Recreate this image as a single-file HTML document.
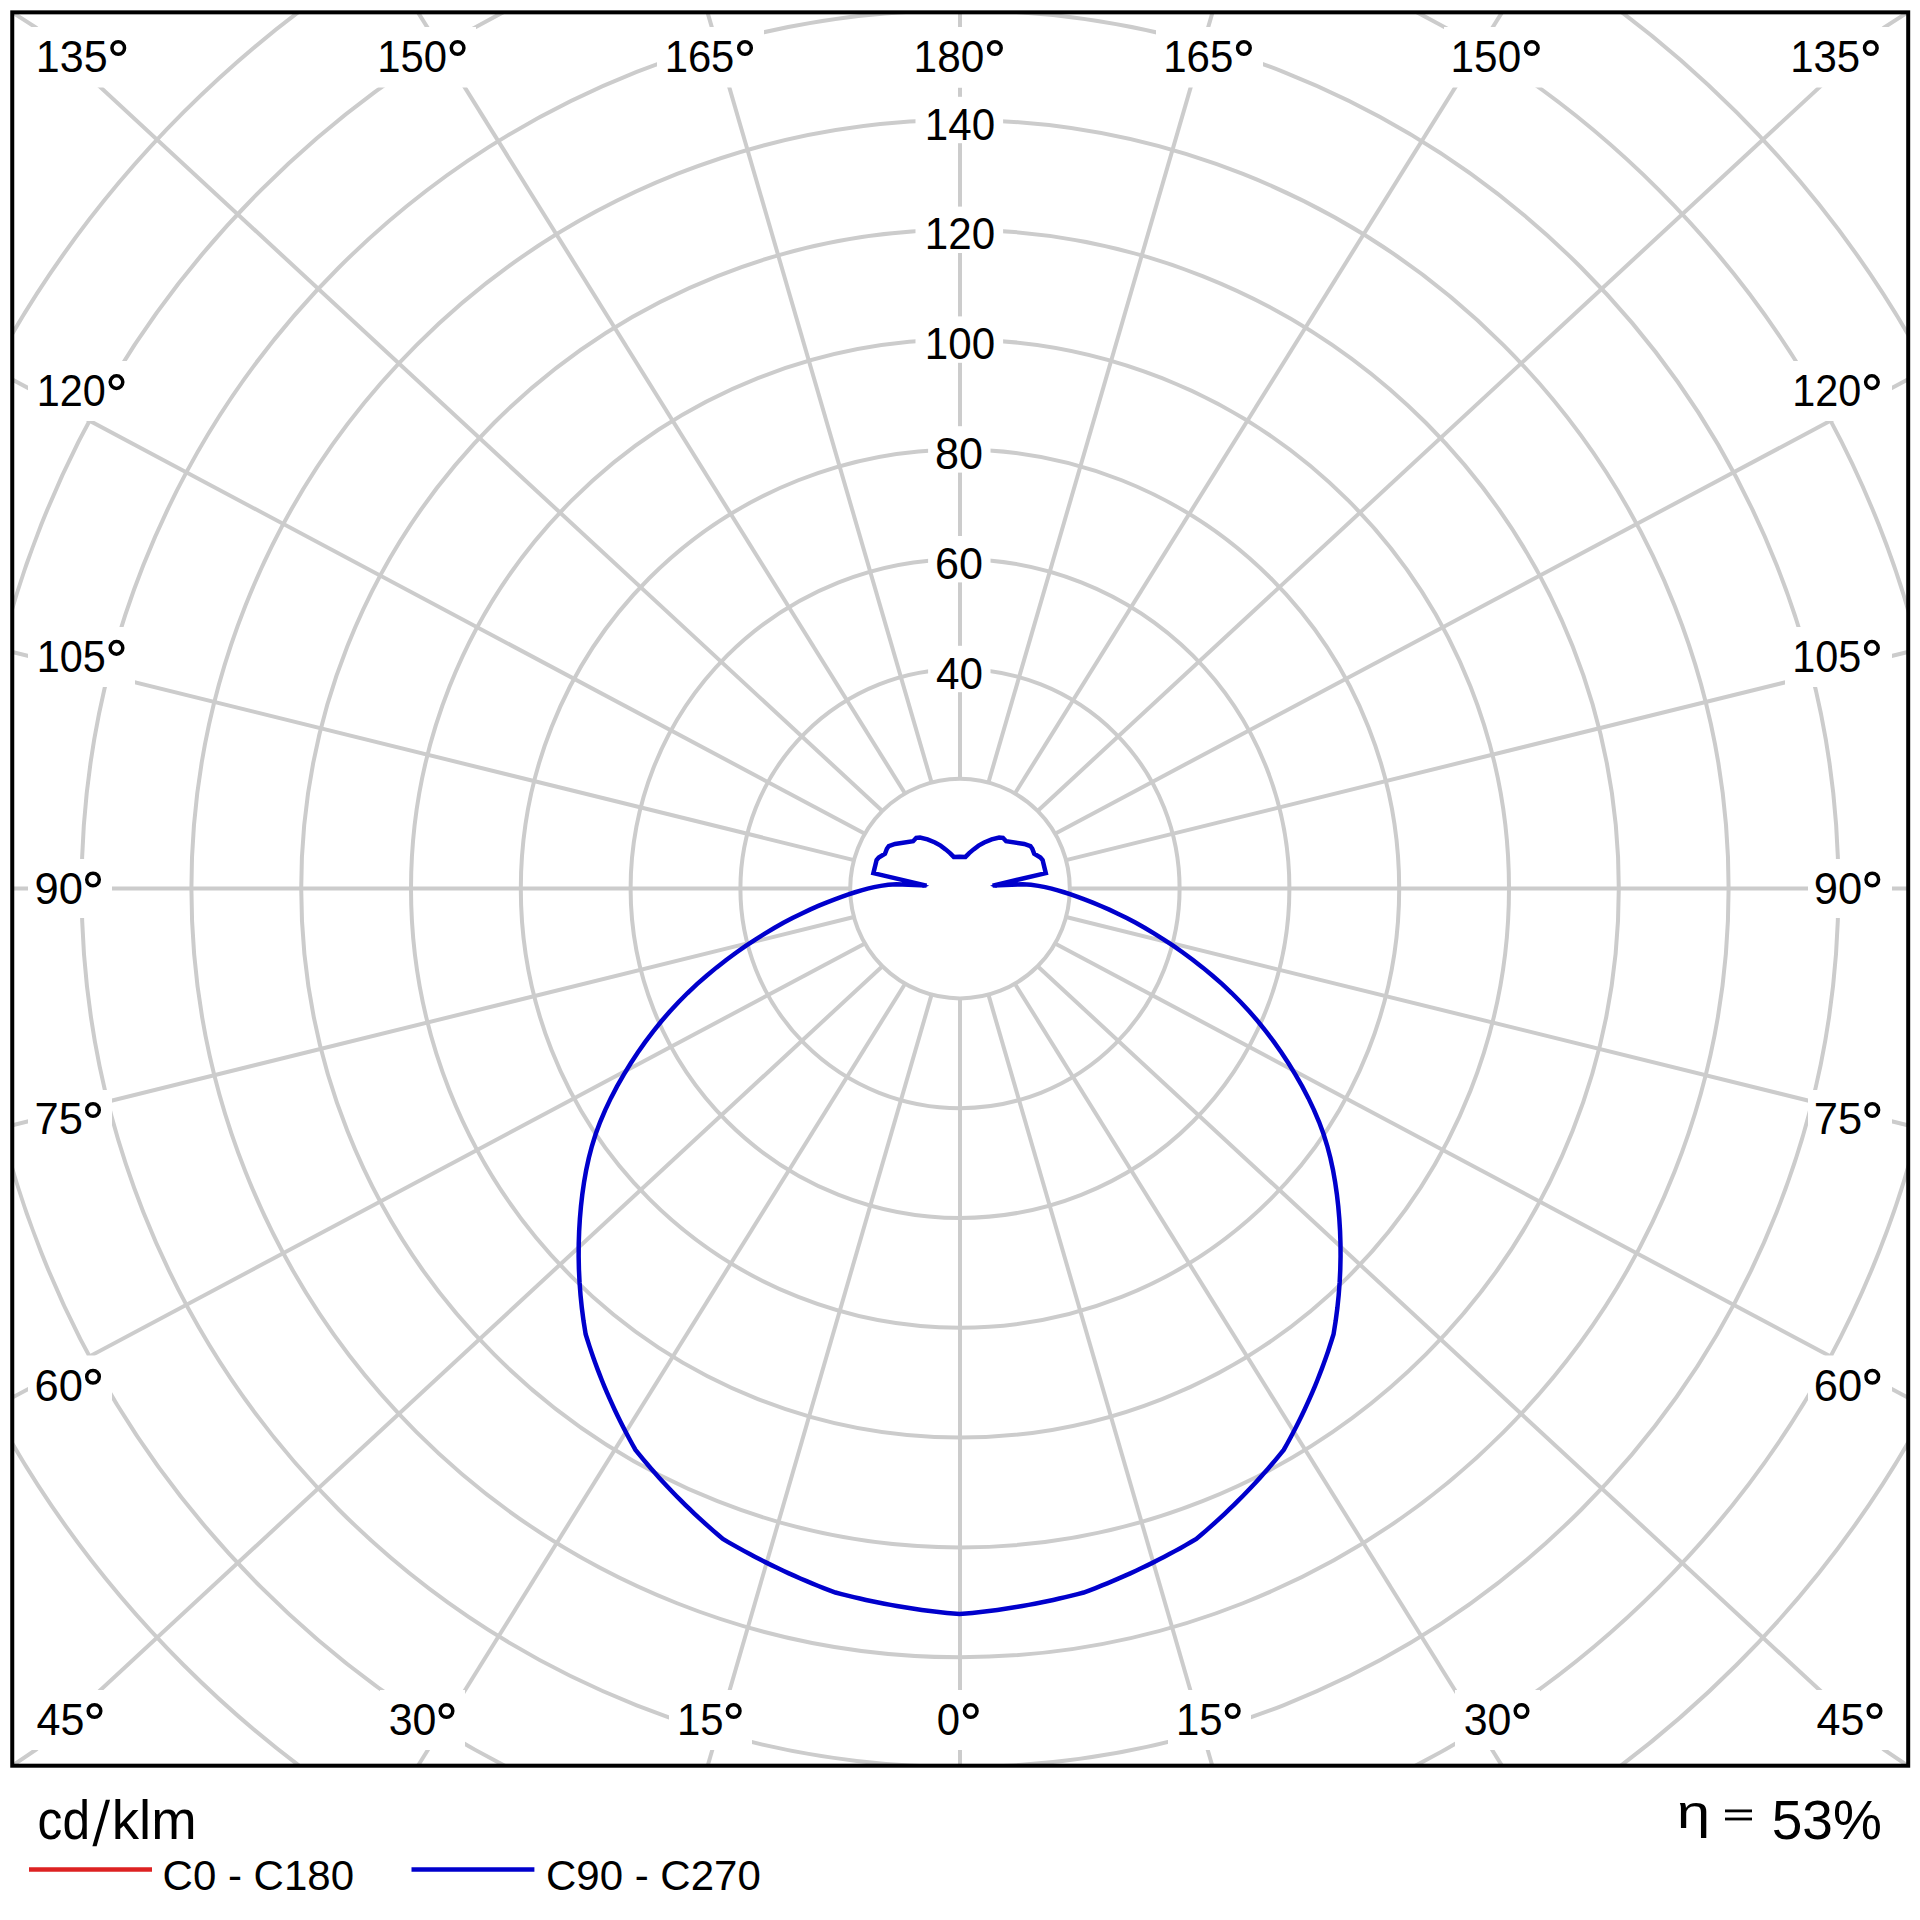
<!DOCTYPE html>
<html><head><meta charset="utf-8"><title>Polar diagram</title>
<style>html,body{margin:0;padding:0;background:#fff;} svg{display:block;}</style>
</head><body>
<svg xmlns="http://www.w3.org/2000/svg" width="1920" height="1920" viewBox="0 0 1920 1920">
<rect x="0" y="0" width="1920" height="1920" fill="#fff"/>
<clipPath id="bx"><rect x="12.25" y="12.35" width="1895.95" height="1753.3500000000001"/></clipPath>
<g clip-path="url(#bx)" fill="none" stroke="#cccccc" stroke-width="4.00">
<circle cx="960.0" cy="888.6" r="109.80"/>
<circle cx="960.0" cy="888.6" r="219.60"/>
<circle cx="960.0" cy="888.6" r="329.40"/>
<circle cx="960.0" cy="888.6" r="439.20"/>
<circle cx="960.0" cy="888.6" r="549.00"/>
<circle cx="960.0" cy="888.6" r="658.80"/>
<circle cx="960.0" cy="888.6" r="768.60"/>
<circle cx="960.0" cy="888.6" r="878.40"/>
<circle cx="960.0" cy="888.6" r="988.20"/>
<circle cx="960.0" cy="888.6" r="1098.00"/>
<path d="M960.00,998.40 L960.00,1765.70"/>
<path d="M931.58,994.66 L707.70,1765.70"/>
<path d="M988.42,994.66 L1212.30,1765.70"/>
<path d="M905.10,983.69 L418.00,1765.70"/>
<path d="M1014.90,983.69 L1502.00,1765.70"/>
<path d="M882.36,966.24 L36.00,1749.70 L12.25,1765.70"/>
<path d="M1037.64,966.24 L1884.00,1749.70 L1907.75,1765.70"/>
<path d="M864.91,943.50 L12.25,1397.60"/>
<path d="M1055.09,943.50 L1907.75,1397.60"/>
<path d="M853.94,917.02 L12.25,1125.20"/>
<path d="M1066.06,917.02 L1907.75,1125.20"/>
<path d="M850.20,888.60 L12.25,888.60"/>
<path d="M1069.80,888.60 L1907.75,888.60"/>
<path d="M853.94,860.18 L12.25,652.00"/>
<path d="M1066.06,860.18 L1907.75,652.00"/>
<path d="M864.91,833.70 L12.25,379.60"/>
<path d="M1055.09,833.70 L1907.75,379.60"/>
<path d="M882.36,810.96 L36.00,27.50 L12.25,12.35"/>
<path d="M1037.64,810.96 L1884.00,27.50 L1907.75,12.35"/>
<path d="M905.10,793.51 L418.00,12.35"/>
<path d="M1014.90,793.51 L1502.00,12.35"/>
<path d="M931.58,782.54 L707.50,12.35"/>
<path d="M988.42,782.54 L1212.50,12.35"/>
<path d="M960.00,778.80 L960.00,12.35"/>
</g>
<g fill="#ffffff">
<rect x="28.00" y="27.00" width="109.00" height="60.50"/>
<rect x="1783.00" y="27.00" width="109.00" height="60.50"/>
<rect x="369.50" y="27.00" width="106.50" height="60.50"/>
<rect x="1444.00" y="27.00" width="106.50" height="60.50"/>
<rect x="657.00" y="27.00" width="107.00" height="60.50"/>
<rect x="1156.00" y="27.00" width="107.00" height="60.50"/>
<rect x="906.00" y="27.00" width="107.50" height="60.50"/>
<rect x="906.50" y="27.00" width="107.50" height="60.50"/>
<rect x="28.00" y="1690.00" width="84.00" height="60.00"/>
<rect x="1808.00" y="1690.00" width="84.00" height="60.00"/>
<rect x="380.00" y="1690.00" width="85.00" height="60.00"/>
<rect x="1455.00" y="1690.00" width="85.00" height="60.00"/>
<rect x="669.00" y="1690.00" width="83.00" height="60.00"/>
<rect x="1168.00" y="1690.00" width="83.00" height="60.00"/>
<rect x="927.00" y="1690.00" width="66.00" height="60.00"/>
<rect x="927.00" y="1690.00" width="66.00" height="60.00"/>
<rect x="28.00" y="361.00" width="107.00" height="60.00"/>
<rect x="1785.00" y="361.00" width="107.00" height="60.00"/>
<rect x="28.00" y="627.00" width="107.00" height="60.00"/>
<rect x="1785.00" y="627.00" width="107.00" height="60.00"/>
<rect x="28.00" y="859.00" width="84.00" height="59.00"/>
<rect x="1808.00" y="859.00" width="84.00" height="59.00"/>
<rect x="28.00" y="1090.00" width="84.00" height="60.00"/>
<rect x="1808.00" y="1090.00" width="84.00" height="60.00"/>
<rect x="28.00" y="1355.50" width="84.00" height="60.00"/>
<rect x="1808.00" y="1355.50" width="84.00" height="60.00"/>
<rect x="928.10" y="645.80" width="62.40" height="46.40"/>
<rect x="928.10" y="536.00" width="62.40" height="46.40"/>
<rect x="928.10" y="426.20" width="62.40" height="46.40"/>
<rect x="915.50" y="316.40" width="87.60" height="46.40"/>
<rect x="915.50" y="206.60" width="87.60" height="46.40"/>
<rect x="915.50" y="96.80" width="87.60" height="46.40"/>
</g>
<path d="M959.60,856.70 L953.75,856.90 L950.00,853.10 L945.60,849.40 L940.60,845.60 L935.00,842.50 L927.50,839.40 L920.00,837.50 L916.25,837.80 L913.10,841.25 L895.00,844.00 L888.75,846.25 L886.90,848.75 L885.00,853.75 L878.75,857.50 L876.60,860.00 L873.40,873.10 L926.50,885.60 L896.55,884.19 L888.26,884.86 L880.83,885.85 L874.04,887.11 L867.64,888.60 L861.41,890.31 L855.11,892.25 L848.51,894.42 L841.50,896.86 L834.11,899.58 L826.37,902.60 L818.30,905.95 L809.94,909.63 L801.32,913.67 L792.47,918.07 L783.42,922.85 L774.21,928.01 L764.85,933.56 L755.35,939.53 L745.73,945.91 L736.01,952.71 L726.20,959.96 L716.38,967.63 L706.62,975.71 L696.98,984.18 L687.55,993.03 L678.40,1002.21 L669.58,1011.71 L661.14,1021.48 L653.05,1031.55 L645.28,1041.90 L637.80,1052.57 L630.58,1063.54 L623.62,1074.83 L617.02,1086.39 L610.85,1098.15 L605.18,1110.07 L600.10,1122.06 L595.68,1134.07 L591.93,1146.04 L588.80,1158.00 L586.21,1169.97 L584.08,1181.99 L582.35,1194.09 L580.96,1206.32 L579.89,1218.68 L579.14,1231.17 L578.73,1243.77 L578.65,1256.48 L578.92,1269.28 L579.54,1282.16 L580.52,1295.11 L581.86,1308.12 L583.57,1321.17 L585.65,1334.26 L587.48,1340.02 L589.34,1345.83 L591.27,1351.65 L593.28,1357.47 L595.36,1363.28 L597.52,1369.10 L599.75,1374.91 L602.05,1380.73 L604.43,1386.53 L606.88,1392.34 L609.41,1398.14 L612.01,1403.93 L614.68,1409.72 L617.43,1415.49 L620.25,1421.26 L623.15,1427.03 L626.13,1432.78 L629.18,1438.52 L632.30,1444.24 L635.50,1449.96 L639.33,1454.67 L643.22,1459.37 L647.16,1464.04 L651.17,1468.68 L655.23,1473.30 L659.34,1477.88 L663.52,1482.45 L667.75,1486.98 L672.04,1491.49 L676.38,1495.96 L680.78,1500.41 L685.24,1504.82 L689.75,1509.21 L694.32,1513.56 L698.94,1517.88 L703.62,1522.16 L708.36,1526.42 L713.15,1530.63 L717.99,1534.81 L722.89,1538.96 L728.19,1542.07 L733.54,1545.14 L738.91,1548.16 L744.33,1551.14 L749.78,1554.08 L755.26,1556.97 L760.78,1559.82 L766.33,1562.62 L771.91,1565.37 L777.53,1568.08 L783.19,1570.74 L788.87,1573.36 L794.59,1575.92 L800.34,1578.44 L806.12,1580.92 L811.93,1583.34 L817.77,1585.71 L823.64,1588.04 L829.54,1590.31 L835.48,1592.54 L841.54,1594.12 L847.61,1595.66 L853.71,1597.14 L859.82,1598.56 L865.95,1599.94 L872.10,1601.26 L878.26,1602.53 L884.44,1603.74 L890.63,1604.90 L896.83,1606.01 L903.06,1607.06 L909.29,1608.06 L915.54,1609.01 L921.80,1609.90 L928.07,1610.74 L934.36,1611.52 L940.65,1612.25 L946.96,1612.92 L953.27,1613.54 L959.60,1614.10 L965.93,1613.54 L972.24,1612.92 L978.55,1612.25 L984.84,1611.52 L991.13,1610.74 L997.40,1609.90 L1003.66,1609.01 L1009.91,1608.06 L1016.14,1607.06 L1022.37,1606.01 L1028.57,1604.90 L1034.76,1603.74 L1040.94,1602.53 L1047.10,1601.26 L1053.25,1599.94 L1059.38,1598.56 L1065.49,1597.14 L1071.59,1595.66 L1077.66,1594.12 L1083.72,1592.54 L1089.66,1590.31 L1095.56,1588.04 L1101.43,1585.71 L1107.27,1583.34 L1113.08,1580.92 L1118.86,1578.44 L1124.61,1575.92 L1130.33,1573.36 L1136.01,1570.74 L1141.67,1568.08 L1147.29,1565.37 L1152.87,1562.62 L1158.42,1559.82 L1163.94,1556.97 L1169.42,1554.08 L1174.87,1551.14 L1180.29,1548.16 L1185.66,1545.14 L1191.01,1542.07 L1196.31,1538.96 L1201.21,1534.81 L1206.05,1530.63 L1210.84,1526.42 L1215.58,1522.16 L1220.26,1517.88 L1224.88,1513.56 L1229.45,1509.21 L1233.96,1504.82 L1238.42,1500.41 L1242.82,1495.96 L1247.16,1491.49 L1251.45,1486.98 L1255.68,1482.45 L1259.86,1477.88 L1263.97,1473.30 L1268.03,1468.68 L1272.04,1464.04 L1275.98,1459.37 L1279.87,1454.67 L1283.70,1449.96 L1286.90,1444.24 L1290.02,1438.52 L1293.07,1432.78 L1296.05,1427.03 L1298.95,1421.26 L1301.77,1415.49 L1304.52,1409.72 L1307.19,1403.93 L1309.79,1398.14 L1312.32,1392.34 L1314.77,1386.53 L1317.15,1380.73 L1319.45,1374.91 L1321.68,1369.10 L1323.84,1363.28 L1325.92,1357.47 L1327.93,1351.65 L1329.86,1345.83 L1331.72,1340.02 L1333.55,1334.26 L1335.63,1321.17 L1337.34,1308.12 L1338.68,1295.11 L1339.66,1282.16 L1340.28,1269.28 L1340.55,1256.48 L1340.47,1243.77 L1340.06,1231.17 L1339.31,1218.68 L1338.24,1206.32 L1336.85,1194.09 L1335.12,1181.99 L1332.99,1169.97 L1330.40,1158.00 L1327.27,1146.04 L1323.52,1134.07 L1319.10,1122.06 L1314.02,1110.07 L1308.35,1098.15 L1302.18,1086.39 L1295.58,1074.83 L1288.62,1063.54 L1281.40,1052.57 L1273.92,1041.90 L1266.15,1031.55 L1258.06,1021.48 L1249.62,1011.71 L1240.80,1002.21 L1231.65,993.03 L1222.22,984.18 L1212.58,975.71 L1202.82,967.63 L1193.00,959.96 L1183.19,952.71 L1173.47,945.91 L1163.85,939.53 L1154.35,933.56 L1144.99,928.01 L1135.78,922.85 L1126.73,918.07 L1117.88,913.67 L1109.26,909.63 L1100.90,905.95 L1092.83,902.60 L1085.09,899.58 L1077.70,896.86 L1070.69,894.42 L1064.09,892.25 L1057.79,890.31 L1051.56,888.60 L1045.16,887.11 L1038.37,885.85 L1030.94,884.86 L1022.65,884.19 L992.70,885.60 L1045.80,873.10 L1042.60,860.00 L1040.45,857.50 L1034.20,853.75 L1032.30,848.75 L1030.45,846.25 L1024.20,844.00 L1006.10,841.25 L1002.95,837.80 L999.20,837.50 L991.70,839.40 L984.20,842.50 L978.60,845.60 L973.60,849.40 L969.20,853.10 L965.45,856.90 L959.60,856.70 Z" fill="none" stroke="#0000cc" stroke-width="4.5" stroke-linejoin="miter" stroke-miterlimit="3"/>
<path d="M922.50,883.2 L929.20,885.7 L922.50,887.9 Z" fill="#0000cc"/>
<path d="M996.70,883.2 L990.00,885.7 L996.70,887.9 Z" fill="#0000cc"/>
<rect x="12.25" y="12.35" width="1895.95" height="1753.3500000000001" fill="none" stroke="#000" stroke-width="4"/>
<g font-family='"Liberation Sans", sans-serif' fill="#000">
<text transform="translate(38.75,72.00) scale(0.9783,1.02)" x="-3.00" y="0" font-size="44">135</text>
<circle cx="118.25" cy="48.00" r="6.3" fill="none" stroke="#000" stroke-width="3.5"/>
<text transform="translate(380.00,72.00) scale(0.9507,1.02)" x="-3.00" y="0" font-size="44">150</text>
<circle cx="457.60" cy="48.00" r="6.3" fill="none" stroke="#000" stroke-width="3.5"/>
<text transform="translate(667.50,72.00) scale(0.9493,1.02)" x="-3.00" y="0" font-size="44">165</text>
<circle cx="745.00" cy="48.00" r="6.3" fill="none" stroke="#000" stroke-width="3.5"/>
<text transform="translate(916.50,72.00) scale(0.9623,1.02)" x="-3.00" y="0" font-size="44">180</text>
<circle cx="994.90" cy="48.00" r="6.3" fill="none" stroke="#000" stroke-width="3.5"/>
<text transform="translate(1166.00,72.00) scale(0.9551,1.02)" x="-3.00" y="0" font-size="44">165</text>
<circle cx="1243.90" cy="48.00" r="6.3" fill="none" stroke="#000" stroke-width="3.5"/>
<text transform="translate(1453.50,72.00) scale(0.9609,1.02)" x="-3.00" y="0" font-size="44">150</text>
<circle cx="1531.80" cy="48.00" r="6.3" fill="none" stroke="#000" stroke-width="3.5"/>
<text transform="translate(1793.00,72.00) scale(0.9536,1.02)" x="-3.00" y="0" font-size="44">135</text>
<circle cx="1870.80" cy="48.00" r="6.3" fill="none" stroke="#000" stroke-width="3.5"/>
<text transform="translate(37.50,1735.00) scale(0.9783,1.02)" x="-1.00" y="0" font-size="44">45</text>
<circle cx="94.50" cy="1711.00" r="6.3" fill="none" stroke="#000" stroke-width="3.5"/>
<text transform="translate(390.60,1735.00) scale(0.9756,1.02)" x="-2.00" y="0" font-size="44">30</text>
<circle cx="446.50" cy="1711.00" r="6.3" fill="none" stroke="#000" stroke-width="3.5"/>
<text transform="translate(679.80,1735.00) scale(0.9523,1.02)" x="-3.00" y="0" font-size="44">15</text>
<circle cx="733.70" cy="1711.00" r="6.3" fill="none" stroke="#000" stroke-width="3.5"/>
<text transform="translate(938.75,1735.00) scale(0.9524,1.02)" x="-2.00" y="0" font-size="44">0</text>
<circle cx="970.75" cy="1711.00" r="6.3" fill="none" stroke="#000" stroke-width="3.5"/>
<text transform="translate(1178.80,1735.00) scale(0.9523,1.02)" x="-3.00" y="0" font-size="44">15</text>
<circle cx="1232.70" cy="1711.00" r="6.3" fill="none" stroke="#000" stroke-width="3.5"/>
<text transform="translate(1465.60,1735.00) scale(0.9756,1.02)" x="-2.00" y="0" font-size="44">30</text>
<circle cx="1521.50" cy="1711.00" r="6.3" fill="none" stroke="#000" stroke-width="3.5"/>
<text transform="translate(1817.50,1735.00) scale(0.9783,1.02)" x="-1.00" y="0" font-size="44">45</text>
<circle cx="1874.50" cy="1711.00" r="6.3" fill="none" stroke="#000" stroke-width="3.5"/>
<text transform="translate(39.60,406.10) scale(0.9406,1.02)" x="-3.00" y="0" font-size="44">120</text>
<circle cx="116.50" cy="382.10" r="6.3" fill="none" stroke="#000" stroke-width="3.5"/>
<text transform="translate(1795.00,406.10) scale(0.9406,1.02)" x="-3.00" y="0" font-size="44">120</text>
<circle cx="1871.90" cy="382.10" r="6.3" fill="none" stroke="#000" stroke-width="3.5"/>
<text transform="translate(39.60,671.90) scale(0.9406,1.02)" x="-3.00" y="0" font-size="44">105</text>
<circle cx="116.50" cy="647.90" r="6.3" fill="none" stroke="#000" stroke-width="3.5"/>
<text transform="translate(1795.00,671.90) scale(0.9406,1.02)" x="-3.00" y="0" font-size="44">105</text>
<circle cx="1871.90" cy="647.90" r="6.3" fill="none" stroke="#000" stroke-width="3.5"/>
<text transform="translate(36.50,903.50) scale(0.9889,1.02)" x="-2.00" y="0" font-size="44">90</text>
<circle cx="93.00" cy="879.50" r="6.3" fill="none" stroke="#000" stroke-width="3.5"/>
<text transform="translate(1815.80,903.50) scale(0.9889,1.02)" x="-2.00" y="0" font-size="44">90</text>
<circle cx="1872.30" cy="879.50" r="6.3" fill="none" stroke="#000" stroke-width="3.5"/>
<text transform="translate(36.50,1134.00) scale(0.9889,1.02)" x="-2.00" y="0" font-size="44">75</text>
<circle cx="93.00" cy="1110.00" r="6.3" fill="none" stroke="#000" stroke-width="3.5"/>
<text transform="translate(1815.80,1134.00) scale(0.9889,1.02)" x="-2.00" y="0" font-size="44">75</text>
<circle cx="1872.30" cy="1110.00" r="6.3" fill="none" stroke="#000" stroke-width="3.5"/>
<text transform="translate(36.50,1400.80) scale(0.9889,1.02)" x="-2.00" y="0" font-size="44">60</text>
<circle cx="93.00" cy="1376.80" r="6.3" fill="none" stroke="#000" stroke-width="3.5"/>
<text transform="translate(1815.80,1400.80) scale(0.9889,1.02)" x="-2.00" y="0" font-size="44">60</text>
<circle cx="1872.30" cy="1376.80" r="6.3" fill="none" stroke="#000" stroke-width="3.5"/>
<text transform="translate(937.00,688.60) scale(0.9587,1.02)" x="-1.00" y="0" font-size="44">40</text>
<text transform="translate(937.00,578.80) scale(0.9800,1.02)" x="-2.00" y="0" font-size="44">60</text>
<text transform="translate(937.00,469.00) scale(0.9800,1.02)" x="-2.00" y="0" font-size="44">80</text>
<text transform="translate(927.70,359.20) scale(0.9572,1.02)" x="-3.00" y="0" font-size="44">100</text>
<text transform="translate(927.70,249.40) scale(0.9572,1.02)" x="-3.00" y="0" font-size="44">120</text>
<text transform="translate(927.70,139.60) scale(0.9572,1.02)" x="-3.00" y="0" font-size="44">140</text>
<text transform="translate(39.40,1839.40) scale(0.9019,1.0)" x="-2.00" y="0" font-size="55">cd</text>
<text transform="translate(115.75,1839.40) scale(0.9917,1.0)" x="-4.00" y="0" font-size="55">klm</text>
<path d="M92.4,1846.2 L105.8,1799.8 L110.0,1799.8 L96.6,1846.2 Z" fill="#000"/>
<text x="162.60" y="1890.40" font-size="42">C0 - C180</text>
<text x="546.00" y="1890.40" font-size="42">C90 - C270</text>
<text x="1771.75" y="1839.40" font-size="55">53%</text>
<text transform="translate(1679.4,1827.5) scale(1.28,1)" x="-2.00" y="0" font-size="47">η</text>
</g>
<rect x="1725" y="1809.5" width="27" height="2.8" fill="#000"/>
<rect x="1725" y="1817.6" width="27" height="2.8" fill="#000"/>
<line x1="29" y1="1869.6" x2="152" y2="1869.6" stroke="#dd2222" stroke-width="4.5"/>
<line x1="411.5" y1="1869.6" x2="534.4" y2="1869.6" stroke="#0000cc" stroke-width="4.5"/>
</svg>
</body></html>
